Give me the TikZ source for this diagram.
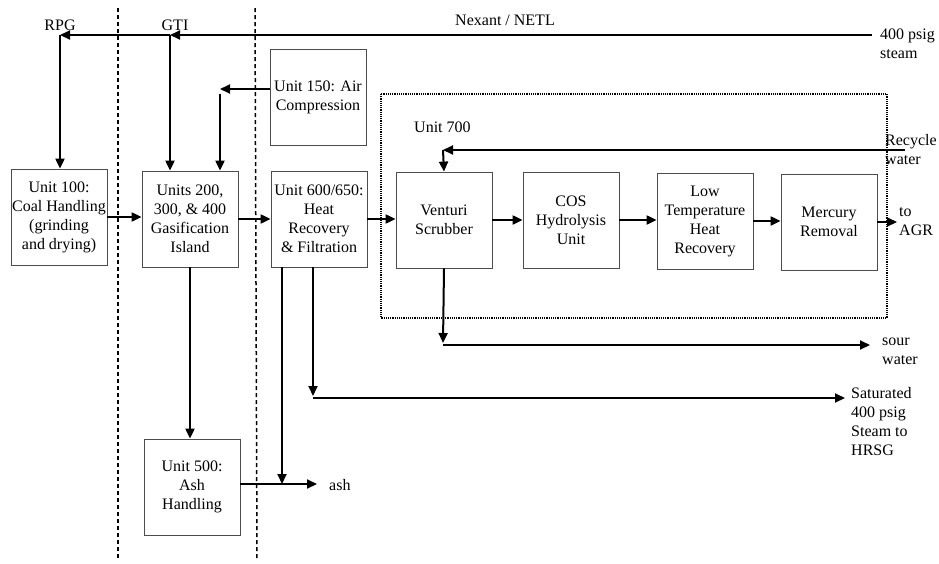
\documentclass[tikz,border=0pt]{standalone}
\usepackage{fontspec}
\setmainfont{Liberation Serif}
\usetikzlibrary{arrows.meta}
\tikzset{
  unit/.style={draw=black!70,line width=0.8pt,minimum width=96pt,minimum height=96pt,
    align=center,inner sep=1pt,font=\fontsize{16}{19}\selectfont},
  lbl/.style={inner sep=0pt,font=\fontsize{16}{19}\selectfont},
  flow/.style={line width=2pt,-{Triangle[length=10pt,width=9pt]}},
  border/.style={line width=1.5pt,dash pattern=on 4pt off 3pt}
}

\begin{document}
\begin{tikzpicture}[x=1pt,y=-1pt]
\useasboundingbox (0,0) rectangle (939,563);
% ---- jurisdiction borders ----
\draw[border] (118,8) -- (118,560);
\draw[border] (255,8) -- (257,560);
% ---- unit 700 envelope ----
\draw[line width=1.2pt,densely dotted] (381,94) rectangle (887,318);
\node[lbl,anchor=west] (u700lbl) at (414,127) {Unit 700};
% ---- process units ----
\node[unit] (u100) at (59,217) {Unit 100:\\Coal Handling\\(grinding\\and drying)};
\node[unit] (u200) at (190,219) {Units 200,\\ 300, \& 400\\Gasification\\Island};
\node[unit] (u600) at (319,219) {Unit 600/650:\\Heat\\Recovery\\\& Filtration};
\node[unit] (u150) at (318,97) {Unit 150: Air\\Compression};
\node[unit] (u500) at (192,487) {Unit 500:\\Ash\\Handling};
\node[unit] (vent) at (444,220) {Venturi\\Scrubber};
\node[unit] (cos) at (571,220) {COS\\Hydrolysis\\Unit};
\node[unit] (lowt) at (705,221) {Low\\Temperature\\Heat\\Recovery};
\node[unit] (merc) at (829,222) {Mercury\\Removal};
% ---- stream labels ----
\node[lbl] (rpg) at (60,25) {RPG};
\node[lbl] (gti) at (175,25) {GTI};
\node[lbl] (netl) at (505,20) {Nexant / NETL};
\node[lbl,anchor=west,align=left] (steam) at (880,44) {400 psig\\steam};
\node[lbl,anchor=west,align=left] (recyc) at (885,150) {Recycle\\water};
\node[lbl,anchor=west,align=left] (agr) at (899,222) {to\\AGR};
\node[lbl,anchor=west,align=left] (sour) at (882,351) {sour\\water};
\node[lbl,anchor=west,align=left] (hrsg) at (851,422) {Saturated\\400 psig\\Steam to\\HRSG};
\node[lbl,anchor=west] (ash) at (329,485) {ash};
% ---- steam header ----
\coordinate (stin) at (872,35);
\coordinate (gtij) at (170,35);
\coordinate (rpgj) at (60,35);
\draw[flow] (stin) -- (gtij);
\draw[flow] (gtij) -- (rpgj);
\draw[flow] (rpgj) -- (rpgj |- u100.north);
\draw[flow] (gtij) -- (gtij |- u200.north);
% ---- air ----
\coordinate (airj) at (220,89);
\draw[flow] ([yshift=8pt]u150.west) -- (airj);
\draw[flow] ([yshift=-5pt]airj) -- (airj |- u200.north);
% ---- main gas path ----
\draw[flow] (u100.east) -- (u100.east -| u200.west);
\draw[flow] (u200.east) -- (u200.east -| u600.west);
\draw[flow] (u600.east) -- (u600.east -| vent.west);
\draw[flow] (vent.east) -- (vent.east -| cos.west);
\draw[flow] (cos.east) -- (cos.east -| lowt.west);
\draw[flow] (lowt.east) -- (lowt.east -| merc.west);
\draw[flow] (merc.east) -- ([xshift=-2pt]agr.west);
% ---- recycle / sour water ----
\coordinate (rcin) at (905,150);
\coordinate (rcj) at (443,150);
\draw[flow] (rcin) -- (rcj);
\draw[flow] (rcj) -- (vent.north);
\coordinate (swj) at (443,343);
\draw[flow] (vent.south) -- (swj);
\draw[flow] ([yshift=-2pt]swj) -- (870,345);
% ---- ash and HRSG steam ----
\coordinate (hsj) at (313,396);
\draw[flow] ([xshift=-6pt]u600.south) -- (hsj);
\draw[flow] ([yshift=-2pt]hsj) -- ([xshift=-6pt]hrsg.west |- 0,398);
\draw[flow] (u200.south) -- (u200.south |- u500.north);
\coordinate (ashj) at (282,484);
\draw[flow] ([xshift=-37pt]u600.south) -- (ashj);
\draw[flow] (u500.east |- ashj) -- ([xshift=-12pt]ash.west |- ashj);
\end{tikzpicture}
\end{document}
